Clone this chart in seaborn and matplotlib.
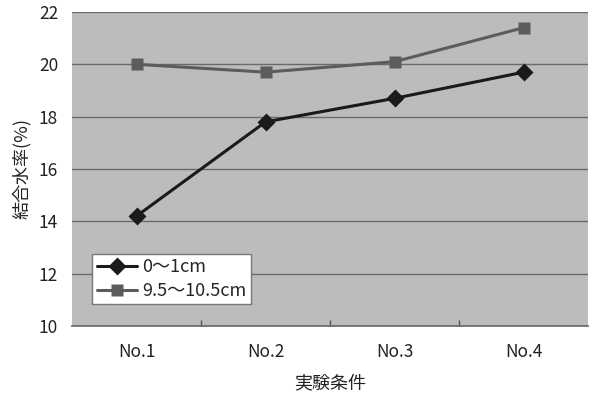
import matplotlib
matplotlib.use("Agg")
import matplotlib.pyplot as plt
import seaborn as sns
import pandas as pd

categories = ["No.1", "No.2", "No.3", "No.4"]
series_a = [14.2, 17.8, 18.7, 19.7]   # 0〜1cm
series_b = [20.0, 19.7, 20.1, 21.4]   # 9.5〜10.5cm
label_a = "0〜1cm"
label_b = "9.5〜10.5cm"
yticks = [10, 12, 14, 16, 18, 20, 22]

sns.set_theme(style="white")
plt.rcParams['font.family'] = ['Noto Sans CJK JP', 'DejaVu Sans']

df = pd.DataFrame({
    "cond": categories * 2,
    "val": series_a + series_b,
    "series": [label_a] * 4 + [label_b] * 4,
})

fig = plt.figure(figsize=(5.9, 3.99), dpi=100)
ax = fig.add_axes([0.122, 0.183, 0.875, 0.787])
ax.set_facecolor("#bcbcba")

sns.lineplot(data=df, x="cond", y="val", hue="series", style="series",
             palette={label_a: "#1a1a1a", label_b: "#5c5c5c"},
             markers={label_a: "D", label_b: "s"}, dashes=False,
             markersize=9, linewidth=2.2, ax=ax, sort=False,
             markeredgecolor="none")

ax.set_xlim(-0.5, 3.5)
ax.set_ylim(10, 22)
ax.set_yticks(yticks)
ax.yaxis.grid(True, color="#6a6a6a", linewidth=1)
ax.set_axisbelow(True)
for s in ax.spines.values():
    s.set_visible(False)
ax.spines["bottom"].set_visible(True)
ax.spines["bottom"].set_color("#6a6a6a")
ax.set_xticks([0.5, 1.5, 2.5], minor=True)
ax.tick_params(axis="x", which="minor", direction="in", length=4, color="#555555", bottom=True)
ax.tick_params(axis="x", which="major", length=0, labelsize=12.5, pad=12, labelcolor="#222222")
ax.tick_params(axis="y", length=0, labelsize=12.5, pad=10, labelcolor="#222222")
ax.set_xlabel("実験条件", fontsize=13, color="#222222", labelpad=10)
ax.set_ylabel("結合水率(%)", fontsize=13, color="#222222", labelpad=6)

leg = ax.legend(loc="lower left", bbox_to_anchor=(0.022, 0.04), frameon=True,
                fancybox=False, edgecolor="#777777", facecolor="white", framealpha=1,
                fontsize=13, handlelength=2.2, borderpad=0.25, labelspacing=0.3,
                handletextpad=0.3)
leg.get_frame().set_linewidth(1)

fig.savefig("out.png", dpi=100)
